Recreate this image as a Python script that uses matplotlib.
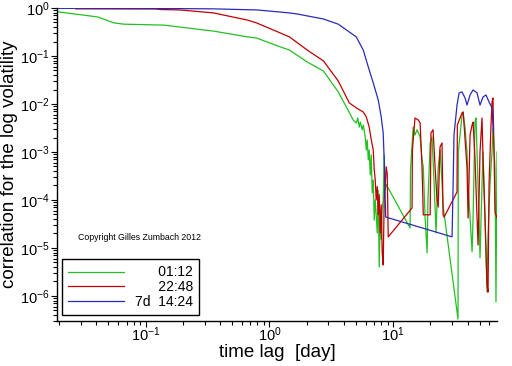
import numpy as np
import matplotlib
matplotlib.use("Agg")
import matplotlib.pyplot as plt
from matplotlib.ticker import FixedLocator, NullFormatter, LogFormatterSciNotation

plt.rcParams['font.family'] = ['Liberation Sans', 'DejaVu Sans']
plt.rcParams['mathtext.fontset'] = 'custom'
plt.rcParams['mathtext.rm'] = 'Liberation Sans Narrow'
plt.rcParams['mathtext.it'] = 'Liberation Sans Narrow'
plt.rcParams['mathtext.bf'] = 'Liberation Sans Narrow'

series_labels = ["      01:12", "      22:48", "7d  14:24"]
series_colors = ["#22c022", "#c00000", "#2a2ab8"]
x_major_ticks = [0.1, 1, 10]
y_major_ticks = [1e-6, 1e-5, 1e-4, 1e-3, 1e-2, 1e-1, 1]

green_lag = [0.0195, 0.0316, 0.041, 0.0552, 0.0665, 0.14, 0.19, 0.353, 0.665, 0.785,
             1.23, 1.45, 2.02, 2.73, 3.6, 4.18, 4.76, 5.03, 5.17, 5.32, 5.42, 5.62,
             5.73, 5.94, 6.06, 6.17, 6.29, 6.40, 6.53, 6.65, 6.77, 6.90, 7.03, 7.16,
             7.29, 7.43, 7.57, 7.71, 7.85, 8.0, 8.15, 8.30, 8.46, 8.62, 8.79, 13.7,
             13.8, 14.5, 15.0, 15.6, 16.5, 17.1, 17.5, 18.1, 18.8, 19.1, 19.9, 20.6,
             21.4, 22.2, 23.1, 23.9, 24.8, 25.3, 33.4, 33.6, 34.7, 36.0, 36.7, 38.1,
             39.5, 40.3, 41.8, 43.4, 44.2, 45.8, 46.7, 47.6, 49.4, 50.3, 52.2, 53.2,
             55.2, 57.3, 58.4, 60.6, 62.9, 64.0, 66.5, 67.7, 69.0]
green_val = [0.83, 0.71, 0.65, 0.49, 0.46, 0.44, 0.40, 0.33, 0.25, 0.237,
             0.154, 0.133, 0.075, 0.0487, 0.0178, 0.0087, 0.0046, 0.0040, 0.0051, 0.0033, 0.0042, 0.0029,
             0.00365, 0.00205, 0.0011, 0.00178, 6.8e-4, 0.0011, 3.3e-4, 8.7e-4, 1.4e-4, 2.6e-4, 3.8e-5, 1.0e-4,
             4.9e-5, 2.05e-5, 1.6e-4, 4.0e-6, 4.4e-5, 1.5e-5, 6.2e-5, 1.0e-4, 8.7e-4, 1.6e-4, 2.1e-4, 2.6e-5,
             4.2e-4, 0.0033, 0.00226, 0.0029, 0.00205, 6.8e-4, 4.9e-4, 4.4e-5, 7.9e-6, 1.0e-4, 0.00154, 0.00205,
             2.3e-4, 2.05e-5, 4.9e-4, 0.0011, 2.3e-4, 7.5e-5, 3.3e-7, 0.001, 0.00226, 0.0059, 0.0068, 0.00316,
             0.001, 2.1e-4, 4.2e-5, 8.3e-6, 4.2e-5, 0.0042, 0.0051, 0.001, 4.2e-5, 6.2e-6, 2.1e-4, 0.001,
             4.2e-5, 1.2e-6, 1.87e-5, 2.1e-4, 0.001, 0.00316, 4.6e-4, 7.5e-7, 0.001]

red_lag = [0.0272, 0.12, 0.132, 0.19, 0.353, 0.665, 0.785, 1.23, 1.45, 2.02, 2.73,
           3.6, 4.42, 5.03, 5.73, 6.06, 6.40, 6.65, 6.90, 7.03, 7.16, 7.29, 7.43,
           7.57, 7.71, 7.85, 8.0, 8.15, 8.30, 8.46, 8.79, 8.95, 9.12, 14.2, 14.3,
           15.0, 16.0, 16.5, 17.1, 17.5, 19.9, 20.2, 21.0, 21.8, 22.6, 23.1, 23.9,
           24.8, 25.3, 25.8, 32.8, 33.0, 34.7, 36.0, 36.7, 37.4, 39.5, 40.3, 41.8,
           43.4, 44.2, 45.8, 47.6, 48.5, 50.3, 52.2, 53.2, 55.2, 57.3, 58.4, 59.5,
           61.7, 62.9, 64.0, 65.3, 66.5, 69.0]
red_val = [0.96, 0.955, 0.93, 0.91, 0.79, 0.56, 0.49, 0.30, 0.25, 0.133, 0.079,
           0.030, 0.0105, 0.0083, 0.0068, 0.0054, 0.0033, 0.0018, 0.0011, 4.3e-4, 2.6e-4, 1.0e-4, 1.9e-4,
           4.9e-5, 1.3e-4, 2.05e-5, 7.9e-5, 7.9e-6, 4.4e-6, 1.0e-4, 4.9e-4, 3.4e-4, 1.7e-5, 6.8e-5, 0.0011,
           0.0051, 0.0046, 0.0040, 4.9e-4, 4.9e-5, 4.9e-5, 0.0025, 0.0029, 4.9e-4, 1.0e-4, 7.1e-5, 0.00127,
           0.00154, 4.9e-5, 4.4e-5, 1.47e-4, 0.00365, 0.0051, 0.0065, 0.0068, 0.00365, 4.6e-4, 4.2e-5, 0.00226,
           0.00365, 0.0042, 7.5e-4, 4.2e-5, 1.15e-5, 0.001, 0.0051, 7.5e-4, 4.2e-5, 1.7e-6, 1.2e-6, 2.1e-4,
           0.00365, 0.011, 0.0133, 0.001, 5.6e-5, 4.2e-5]

blue_lag = [0.0195, 0.19, 0.35, 0.8, 1.45, 1.68, 2.73, 3.6, 4.18, 5.03, 5.73, 6.29,
            6.90, 7.57, 8.0, 8.30, 8.46, 8.62, 8.7, 29.9, 30.5, 31.0, 32.8, 34.1,
            36.0, 38.1, 39.5, 41.8, 44.2, 47.6, 50.3, 53.2, 56.2, 59.5, 62.9, 64.0, 64.5]
blue_val = [0.985, 0.97, 0.96, 0.91, 0.79, 0.75, 0.59, 0.46, 0.35, 0.25, 0.133, 0.059,
            0.0274, 0.0121, 0.0054, 0.0025, 6.8e-4, 1.0e-4, 4.4e-5, 1.7e-5, 2.1e-4, 0.00226, 0.0095, 0.017,
            0.0178, 0.0133, 0.0095, 0.0154, 0.0196, 0.017, 0.0095, 0.014, 0.0154, 0.011, 0.0083, 0.0036, 0.0025]

fig = plt.figure(figsize=(5.12, 3.66), dpi=100)
ax = fig.add_axes([57/512, 45/366, 440/512, 313/366])

for lag, val, lab, col in [(green_lag, green_val, series_labels[0], series_colors[0]),
                           (red_lag, red_val, series_labels[1], series_colors[1]),
                           (blue_lag, blue_val, series_labels[2], series_colors[2])]:
    ax.plot(lag, val, color=col, lw=0.9, label=lab)

ax.set_xscale('log')
ax.set_yscale('log')
xlim = (0.0192, 69)
ylim = (3.0e-7, 1.0)
ax.set_xlim(*xlim)
ax.set_ylim(*ylim)

for s in ['top', 'right']:
    ax.spines[s].set_visible(False)
for s in ['left', 'bottom']:
    ax.spines[s].set_linewidth(1.0)

def minor_in(lo, hi):
    out = []
    for e in range(-8, 3):
        for m in range(2, 10):
            v = m * 10.0 ** e
            if lo <= v <= hi:
                out.append(v)
    return out

ax.xaxis.set_major_locator(FixedLocator(x_major_ticks))
ax.yaxis.set_major_locator(FixedLocator(y_major_ticks))
ax.xaxis.set_major_formatter(LogFormatterSciNotation())
ax.yaxis.set_major_formatter(LogFormatterSciNotation())
ax.xaxis.set_minor_locator(FixedLocator(minor_in(*xlim)))
ax.yaxis.set_minor_locator(FixedLocator(minor_in(*ylim)))
ax.xaxis.set_minor_formatter(NullFormatter())
ax.yaxis.set_minor_formatter(NullFormatter())
ax.tick_params(which='major', direction='out', length=4.5, width=0.8, labelsize=10.5)
ax.tick_params(which='minor', direction='out', length=3, width=0.8)
ax.tick_params(axis='x', which='major', pad=-1)
ax.tick_params(axis='y', which='major', pad=1)

ax.set_xlabel("time lag  [day]", fontsize=13.5)
ax.set_ylabel("correlation for the log volatility", fontsize=13.5)
ax.xaxis.set_label_coords(0.5, -0.072)
ax.yaxis.set_label_coords(-0.088, 0.5)

ax.text(0.048, 0.268, "Copyright Gilles Zumbach 2012", transform=ax.transAxes,
        fontsize=6.3, va='center', ha='left')

leg = ax.legend(loc='lower left', bbox_to_anchor=(0.011, 0.019), borderaxespad=0,
                fontsize=10, handlelength=4.0, handletextpad=0.8, labelspacing=0.05,
                borderpad=0.45, fancybox=False, framealpha=1, edgecolor='black')
leg.get_frame().set_linewidth(1.0)

fig.savefig("out.png", dpi=100)
